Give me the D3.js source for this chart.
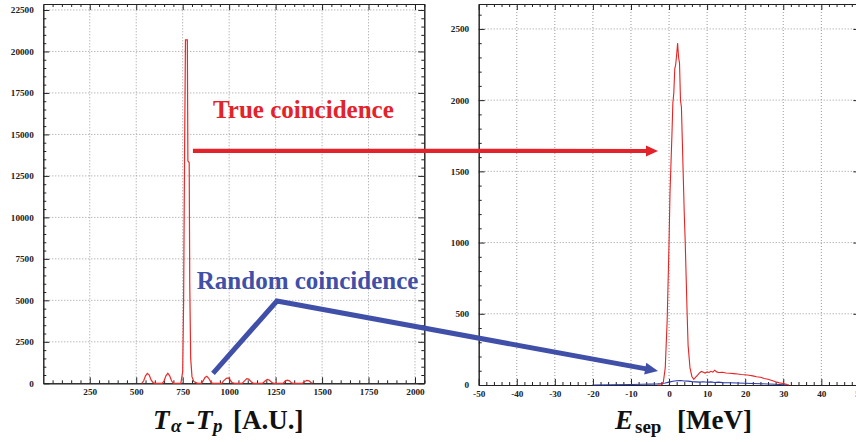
<!DOCTYPE html>
<html>
<head>
<meta charset="utf-8">
<script src="https://cdn.jsdelivr.net/npm/d3@7/dist/d3.min.js"></script>
<style>
  body { margin: 0; background: #fff; }
  svg { display: block; }
  text { font-family: "Liberation Serif", "Times New Roman", serif; font-weight: bold; }
</style>
</head>
<body>
<svg id="chart" width="856" height="442"></svg>
<script>
// left histogram: T_alpha - T_p (arbitrary units) vs counts
const tdiffX = [530, 540, 550, 560, 570, 580, 590, 600, 640, 650, 660, 670, 680, 690, 700,
    740, 750, 755, 760, 765, 775, 778, 785, 788, 793, 800, 810, 830,
    850, 860, 870, 880, 890, 900, 910, 960, 970, 985, 995, 1005, 1015, 1030,
    1070, 1080, 1095, 1105, 1120, 1130, 1180, 1195, 1205, 1215, 1230, 1240,
    1290, 1300, 1312, 1325, 1335, 1345, 1395, 1405, 1418, 1430, 1440, 1447];
const tdiffCounts = [0, 150, 450, 600, 500, 200, 50, 0, 0, 150, 450, 600, 450, 150, 0,
    0, 700, 5000, 13700, 20700, 20700, 13400, 13300, 6000, 1500, 400, 100, 0,
    0, 150, 350, 420, 300, 100, 0, 0, 150, 300, 330, 200, 50, 0,
    0, 120, 280, 250, 80, 0, 0, 150, 240, 200, 50, 0,
    0, 120, 190, 150, 30, 0, 0, 100, 180, 150, 50, 0];

// right histogram: E_sep in MeV, true coincidence (red)
const esepTrue = [-3, -2, -1.5, -1, -0.5, 0, 0.25, 0.5, 0.75, 1, 1.25, 1.5, 1.75, 2, 2.25, 2.5, 2.75,
    3, 3.25, 3.5, 3.75, 4, 4.25, 4.5, 4.75, 5, 5.5, 6, 6.5, 7, 7.5, 8, 8.5, 9, 9.5, 10, 10.5,
    11, 11.5, 12, 12.5, 13, 14, 15, 16, 17, 18, 19, 20, 21, 22, 23, 24, 25, 26, 27, 28, 29, 30, 31, 31.5];
const trueCounts = [0, 2, 20, 120, 450, 1000, 1350, 1550, 1750, 1980, 2050, 2220, 2250, 2320, 2400, 2300, 2260,
    2000, 1950, 1700, 1450, 1200, 1000, 750, 500, 280, 120, 60, 40, 55, 70, 85, 95, 90, 84, 92, 88,
    96, 90, 104, 92, 88, 90, 84, 82, 80, 77, 74, 72, 68, 64, 58, 54, 46, 40, 32, 23, 15, 11, 3, 0];

// random coincidence (blue)
const esepRandom = [-20, -15, -10, -7, -5, -3, -2, -1, 0, 1, 2, 3, 4, 5, 6, 7, 8, 9, 10, 11, 12, 13, 14,
    16, 18, 20, 22, 24, 26, 28, 30, 31];
const randomCounts = [0, 2, 3, 5, 6, 8, 10, 14, 20, 26, 30, 32, 28, 27, 24, 22, 20, 23, 19, 22, 18, 20, 17,
    16, 14, 12, 11, 9, 7, 5, 2, 0];

// ticks
const tdiffTicks = [250, 500, 750, 1000, 1250, 1500, 1750, 2000];
const tdiffCountTicks = [0, 2500, 5000, 7500, 10000, 12500, 15000, 17500, 20000, 22500];
const esepTicks = [-50, -40, -30, -20, -10, 0, 10, 20, 30, 40, 50];
const esepCountTicks = [0, 500, 1000, 1500, 2000, 2500];

const svg = d3.select('#chart');
const fontFam = '"Liberation Serif", "Times New Roman", serif';

// scales (panels side by side, right one runs off the edge a bit)
const lx = d3.scaleLinear().domain([0, 2050]).range([43.3, 424.3]);
const ly = d3.scaleLinear().domain([0, 22860]).range([383.3, 4]);
const rx = d3.scaleLinear().domain([-50, 50]).range([478.7, 859.4]);
const ry = d3.scaleLinear().domain([0, 2675]).range([385, 4]);

// minor ticks = 5 subdivisions of each major step
function minors(scale, step) {
    const [a, b] = scale.domain();
    const sub = step / 5;
    return d3.range(Math.ceil(a / sub) * sub, b + 1e-9, sub)
        .filter(v => Math.abs(v / step - Math.round(v / step)) > 1e-6);
}

function drawFrame(g, x, y, xTicks, yTicks, xStep, yStep) {
    const [x0, x1] = x.range(), [y0, y1] = y.range();
    const hyphen = d => String(d).replace('\u2212', '-');

    // dotted grid
    g.append('g').selectAll('line')
        .data(xTicks.filter(d => x(d) > x0 + 1 && x(d) < x1 - 1))
        .join('line')
        .attr('x1', d => x(d)).attr('x2', d => x(d))
        .attr('y1', y0).attr('y2', y1)
        .attr('stroke', '#9a9a9a').attr('stroke-dasharray', '1,2');
    g.append('g').selectAll('line')
        .data(yTicks.filter(d => y(d) < y0 - 1 && y(d) > y1 + 1))
        .join('line')
        .attr('y1', d => y(d)).attr('y2', d => y(d))
        .attr('x1', x0).attr('x2', x1)
        .attr('stroke', '#9a9a9a').attr('stroke-dasharray', '1,2');

    const style = sel => sel.attr('font-family', fontFam).attr('font-size', 9.2)
        .attr('font-weight', 'bold').attr('color', '#222');

    // bottom + top
    g.append('g').attr('transform', `translate(0,${y0})`)
        .call(d3.axisBottom(x).tickValues(xTicks).tickSizeInner(-6).tickSizeOuter(0)
            .tickPadding(5.3).tickFormat(hyphen))
        .call(style);
    g.append('g').attr('transform', `translate(0,${y0})`)
        .call(d3.axisBottom(x).tickValues(minors(x, xStep)).tickSizeInner(-3).tickSizeOuter(0).tickFormat(''))
        .call(style);
    g.append('g').attr('transform', `translate(0,${y1})`)
        .call(d3.axisTop(x).tickValues(xTicks).tickSizeInner(-6).tickSizeOuter(0).tickFormat(''))
        .call(style);
    g.append('g').attr('transform', `translate(0,${y1})`)
        .call(d3.axisTop(x).tickValues(minors(x, xStep)).tickSizeInner(-3).tickSizeOuter(0).tickFormat(''))
        .call(style);

    // left + right
    g.append('g').attr('transform', `translate(${x0},0)`)
        .call(d3.axisLeft(y).tickValues(yTicks).tickSizeInner(-6).tickSizeOuter(0)
            .tickPadding(9.5).tickFormat(d => d))
        .call(style);
    g.append('g').attr('transform', `translate(${x0},0)`)
        .call(d3.axisLeft(y).tickValues(minors(y, yStep)).tickSizeInner(-3).tickSizeOuter(0).tickFormat(''))
        .call(style);
    g.append('g').attr('transform', `translate(${x1},0)`)
        .call(d3.axisRight(y).tickValues(yTicks).tickSizeInner(-6).tickSizeOuter(0).tickFormat(''))
        .call(style);
    g.append('g').attr('transform', `translate(${x1},0)`)
        .call(d3.axisRight(y).tickValues(minors(y, yStep)).tickSizeInner(-3).tickSizeOuter(0).tickFormat(''))
        .call(style);
}

function drawLeft() {
    const g = svg.append('g').attr('id', 'tdiff');
    drawFrame(g, lx, ly, tdiffTicks, tdiffCountTicks, 250, 2500);

    const pts = d3.zip(tdiffX, tdiffCounts);
    g.append('path')
        .attr('fill', 'none').attr('stroke', '#ec2a2a').attr('stroke-width', 1.2)
        .attr('d', d3.line().x(d => lx(d[0])).y(d => ly(d[1]))(pts));
}

function drawRight() {
    const g = svg.append('g').attr('id', 'esep');
    drawFrame(g, rx, ry, esepTicks, esepCountTicks, 10, 500);

    const lineMaker = d3.line().x(d => rx(d[0])).y(d => ry(d[1]));
    g.append('path')
        .attr('fill', 'none').attr('stroke', '#2a3aa8').attr('stroke-width', 1.1)
        .attr('d', lineMaker(d3.zip(esepRandom, randomCounts)));
    g.append('path')
        .attr('fill', 'none').attr('stroke', '#e82222').attr('stroke-width', 1.1)
        .attr('d', lineMaker(d3.zip(esepTrue, trueCounts)));
}

// arrow: polyline + triangular head at the last point
function arrow(points, color, width, headLen, headW) {
    const n = points.length;
    const [tx, ty] = points[n - 1], [px, py] = points[n - 2];
    const len = Math.hypot(tx - px, ty - py);
    const ux = (tx - px) / len, uy = (ty - py) / len;
    const bx = tx - ux * headLen, by = ty - uy * headLen;
    const shaft = points.slice(0, n - 1).concat([[bx + ux, by + uy]]);
    svg.append('path')
        .attr('fill', 'none').attr('stroke', color).attr('stroke-width', width)
        .attr('stroke-linejoin', 'miter')
        .attr('d', d3.line()(shaft));
    svg.append('path')
        .attr('fill', color)
        .attr('d', d3.line()([[tx, ty], [bx - uy * headW / 2, by + ux * headW / 2],
            [bx + uy * headW / 2, by - ux * headW / 2]]) + 'Z');
}

function drawNotes() {
    const red = '#e4222a', blue = '#4050a8';
    arrow([[lx(805), ly(14010)], [rx(-2.9), ry(1643)]], red, 4.2, 12, 11);
    arrow([[lx(913), ly(603)], [lx(1257), ly(4961)], [rx(-2.9), ry(98)]], blue, 5, 13, 12);

    svg.append('text').attr('x', lx(913)).attr('y', ly(15990))
        .attr('font-size', 25).attr('fill', red).text('True coincidence');
    svg.append('text').attr('x', lx(826)).attr('y', ly(5666))
        .attr('font-size', 25).attr('fill', blue).text('Random coincidence');

    // axis titles
    const t1 = svg.append('text').attr('y', 429).attr('fill', '#111').attr('font-size', 27);
    t1.append('tspan').attr('x', 153).attr('font-style', 'italic').text('T');
    t1.append('tspan').attr('x', 171).attr('y', 432).attr('font-style', 'italic').attr('font-size', 19).text('α');
    t1.append('tspan').attr('x', 186).attr('y', 429).text('-');
    t1.append('tspan').attr('x', 196).attr('font-style', 'italic').text('T');
    t1.append('tspan').attr('x', 213).attr('y', 432).attr('font-style', 'italic').attr('font-size', 19).text('p');
    t1.append('tspan').attr('x', 233).attr('y', 429).text('[A.U.]');

    const t2 = svg.append('text').attr('y', 429).attr('fill', '#111').attr('font-size', 27);
    t2.append('tspan').attr('x', 615).attr('font-style', 'italic').text('E');
    t2.append('tspan').attr('x', 635).attr('y', 433).attr('font-size', 19).text('sep');
    t2.append('tspan').attr('x', 677).attr('y', 429).text('[MeV]');
}

drawLeft();
drawRight();
drawNotes();
</script>
</body>
</html>
